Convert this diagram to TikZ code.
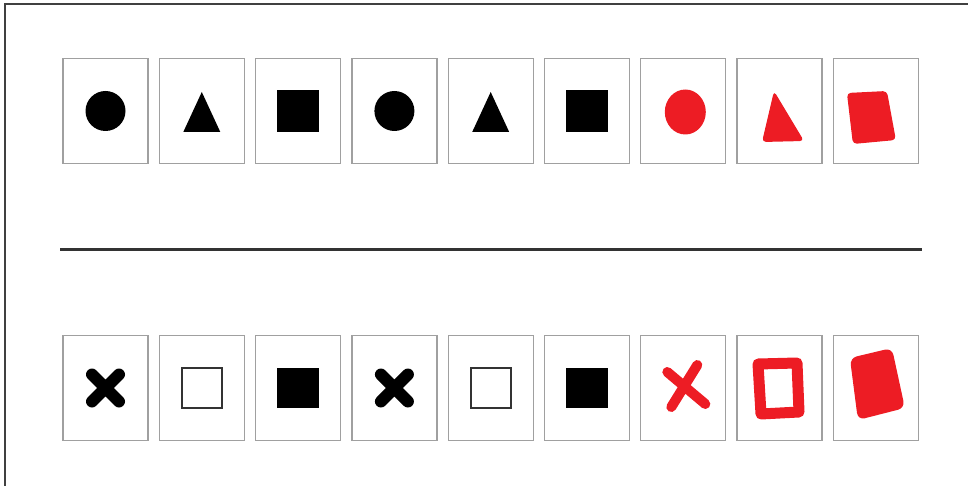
\documentclass[tikz,border=0pt]{standalone}
\usepackage{xcolor}
\usepackage{tikz}
\definecolor{penred}{RGB}{237,28,36}
\definecolor{cardgray}{RGB}{160,160,160}
\tikzset{
  card/.style={draw=cardgray, line width=1.3pt, minimum width=85pt, minimum height=105pt, inner sep=0pt},
  inkred/.style={fill=penred, rounded corners=4pt},
  redpen/.style={draw=penred, line width=11pt, line cap=round, line join=round}
}

\begin{document}
\begin{tikzpicture}[x=1pt,y=-1pt]
  \useasboundingbox (0,0) rectangle (968,486);
  \draw[black!75, line width=1.6pt] (5,486) -- (5,4) -- (968,4);
  % top row
  \node[card] (t1) at (105.5,111) {};
  \node[card] (t2) at (201.8,111) {};
  \node[card] (t3) at (298.1,111) {};
  \node[card] (t4) at (394.4,111) {};
  \node[card] (t5) at (490.7,111) {};
  \node[card] (t6) at (587.0,111) {};
  \node[card] (t7) at (683.3,111) {};
  \node[card] (t8) at (779.6,111) {};
  \node[card] (t9) at (875.9,111) {};
  \fill[shift={(t1)}] (0,0) circle (20);
  \fill[shift={(t2)}] (-18.5,21) -- (18.5,21) -- (0,-19) -- cycle;
  \fill[shift={(t3)}] (-21,-21) rectangle (21,21);
  \fill[shift={(t4)}] (0,0) circle (20);
  \fill[shift={(t5)}] (-18.5,21) -- (18.5,21) -- (0,-19) -- cycle;
  \fill[shift={(t6)}] (-21,-21) rectangle (21,21);
  \fill[penred, shift={(t7)}] (2,1) ellipse (20.5 and 22.5);
  \fill[inkred, shift={(t8)}] (-5.6,-20) -- (-17.6,31) -- (24.4,30) -- cycle;
  \fill[inkred, shift={(t9)}] (-29,-18) -- (11,-20) -- (20,29) -- (-23,33) -- cycle;
  % divider
  \draw[black!80, line width=3pt] (60,249) -- (922,249);
  % bottom row
  \node[card] (b1) at (105.5,388) {};
  \node[card] (b2) at (201.8,388) {};
  \node[card] (b3) at (298.1,388) {};
  \node[card] (b4) at (394.4,388) {};
  \node[card] (b5) at (490.7,388) {};
  \node[card] (b6) at (587.0,388) {};
  \node[card] (b7) at (683.3,388) {};
  \node[card] (b8) at (779.6,388) {};
  \node[card] (b9) at (875.9,388) {};
  \draw[line width=12pt, line cap=round, shift={(b1)}] (-13.5,-13.5) -- (13.5,13.5) (13.5,-13.5) -- (-13.5,13.5);
  \draw[line width=1.6pt, black!80, shift={(b2)}] (-20,-20) rectangle (20,20);
  \fill[shift={(b3)}] (-21,-20) rectangle (21,20);
  \draw[line width=12pt, line cap=round, shift={(b4)}] (-13.5,-13.5) -- (13.5,13.5) (13.5,-13.5) -- (-13.5,13.5);
  \draw[line width=1.6pt, black!80, shift={(b5)}] (-20,-20) rectangle (20,20);
  \fill[shift={(b6)}] (-21,-20) rectangle (21,20);
  \draw[redpen, line width=10pt, shift={(b7)}] (14,-23) -- (-12,19) (-16,-16) -- (22,16);
  \draw[redpen, shift={(b8)}] (-21.6,-24) -- (17.4,-25) -- (19.4,24) -- (-18.6,26) -- cycle;
  \fill[inkred, rounded corners=7pt, shift={(b9)}] (-26,-30) -- (16,-40) -- (29,20) -- (-18,32) -- cycle;
\end{tikzpicture}
\end{document}
